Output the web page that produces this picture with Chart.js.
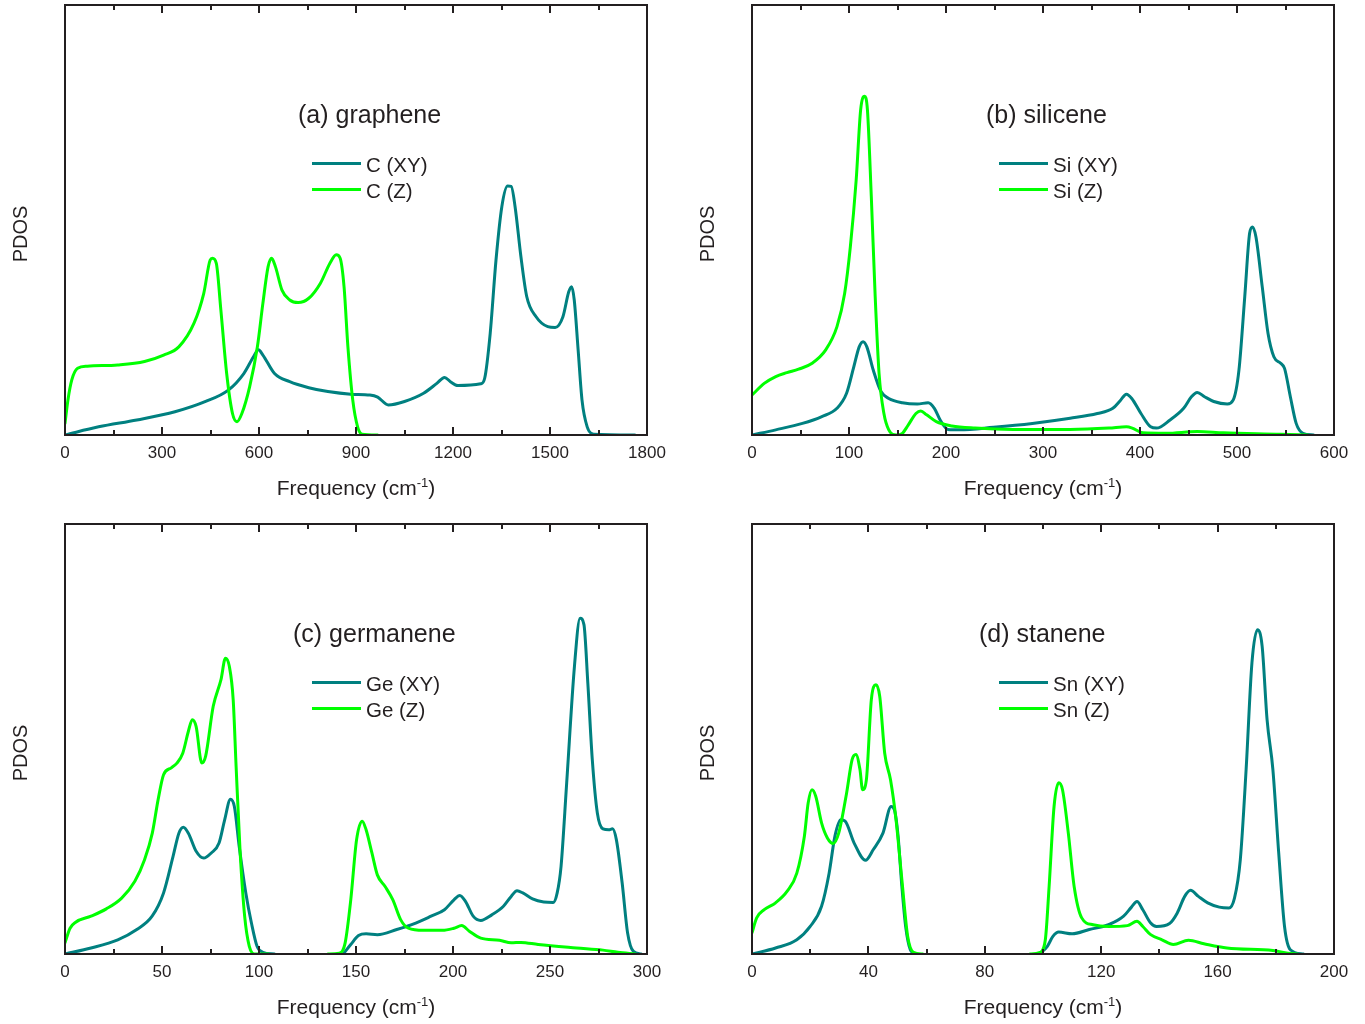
<!DOCTYPE html>
<html>
<head>
<meta charset="utf-8">
<script src="https://cdn.jsdelivr.net/npm/chart.js@4.4.1/dist/chart.umd.min.js"></script>
<style>
html,body{margin:0;padding:0;background:#fff;overflow:hidden;width:1365px;height:1024px;}
canvas{position:absolute;}
</style>
</head>
<body>
<canvas id="ca" width="678" height="505" style="left:0px;top:0px;width:678px;height:505px"></canvas>
<canvas id="cb" width="678" height="505" style="left:687px;top:0px;width:678px;height:505px"></canvas>
<canvas id="cc" width="678" height="505" style="left:0px;top:519px;width:678px;height:505px"></canvas>
<canvas id="cd" width="678" height="505" style="left:687px;top:519px;width:678px;height:505px"></canvas>
<script>
// ---------- DATA (frequency in cm^-1, PDOS in arbitrary units) ----------
const panelTitles = ['(a) graphene', '(b) silicene', '(c) germanene', '(d) stanene'];
const labelsXY = ['C (XY)', 'Si (XY)', 'Ge (XY)', 'Sn (XY)'];
const labelsZ  = ['C (Z)', 'Si (Z)', 'Ge (Z)', 'Sn (Z)'];
const xMaxima  = [1800, 600, 300, 200];
const tickSteps = [300, 100, 50, 40];

// (a) graphene
const aXY_f = [0,104,222,340,435,506,553,583,598,612,648,695,754,813,884,943,967,1000,1050,1109,1150,1174,1192,1215,1286,1298,1315,1333,1351,1369,1380,1392,1410,1428,1457,1493,1516,1540,1558,1567,1575,1587,1599,1615,1635,1762];
const aXY_p = [0,0.019,0.035,0.054,0.078,0.105,0.143,0.182,0.198,0.186,0.143,0.124,0.110,0.101,0.095,0.093,0.088,0.070,0.078,0.097,0.120,0.134,0.124,0.115,0.119,0.132,0.236,0.407,0.531,0.579,0.578,0.531,0.415,0.322,0.275,0.252,0.250,0.275,0.333,0.345,0.314,0.198,0.081,0.019,0.002,0];
const aZ_f = [0,9,21,39,69,163,246,305,352,399,429,449,456,468,482,500,518,532,547,571,595,612,628,639,651,671,695,721,754,790,819,839,851,863,875,890,905,919,967];
const aZ_p = [0.027,0.081,0.128,0.155,0.160,0.163,0.171,0.186,0.205,0.260,0.329,0.407,0.411,0.399,0.291,0.143,0.050,0.031,0.050,0.112,0.205,0.306,0.391,0.411,0.391,0.337,0.314,0.308,0.318,0.353,0.399,0.419,0.411,0.345,0.205,0.081,0.019,0.002,0];

// (b) silicene
const bXY_f = [0,24.5,52,72,87.6,97.5,105,110.5,114.5,118.4,125,133,141,155,170.5,181.6,188,194,202,214,249,289,328,356,372,380,386,391.5,401,411,417,431,445,453,459,466.5,476,490,496,502,508,513,516,519.5,526,532,538,545,549,555,561,568,579];
const bXY_p = [0,0.012,0.027,0.043,0.062,0.097,0.159,0.205,0.217,0.205,0.151,0.101,0.085,0.075,0.072,0.075,0.062,0.035,0.013,0.012,0.018,0.027,0.039,0.050,0.062,0.081,0.095,0.085,0.050,0.019,0.016,0.035,0.062,0.089,0.099,0.089,0.078,0.072,0.081,0.151,0.322,0.469,0.484,0.461,0.345,0.236,0.182,0.167,0.155,0.089,0.027,0.004,0];
const bZ_f = [0,12.6,24.5,36,48,62,76,87.6,95.5,101.4,107.4,112,116,119,123,127,131,136,141,149,155,161,169,174,180,190,206,230,269,328,368,386,392,403,427,459,486,545,573];
const bZ_p = [0.093,0.120,0.136,0.145,0.153,0.167,0.198,0.252,0.329,0.438,0.593,0.756,0.788,0.756,0.554,0.322,0.143,0.050,0.012,0,0.004,0.023,0.050,0.056,0.047,0.031,0.021,0.016,0.013,0.013,0.016,0.019,0.016,0.005,0.004,0.008,0.005,0.002,0];

// (c) germanene
const cXY_f = [0,13.4,27.2,37,44.9,50.8,55.7,58.7,61,63.6,67.6,71.5,75.4,79.4,82.3,85.3,87.3,89.8,93.2,96.1,99,102,108,120,143.4,147.3,151.3,155.2,161,171,180.8,188.7,195.6,200.5,203.5,206.5,210.4,214.3,220,226,230,233,236,241,246.8,251.7,253.7,255.7,258.6,262.6,265.5,267.5,269.5,271.8,274.4,277.3,280.3,282.2,284.2,287.2,290,293,297];
const cXY_p = [0,0.014,0.033,0.057,0.088,0.142,0.227,0.281,0.295,0.281,0.239,0.223,0.235,0.258,0.312,0.360,0.343,0.250,0.142,0.072,0.018,0.004,0,null,0,0.022,0.043,0.047,0.045,0.057,0.072,0.088,0.103,0.126,0.136,0.122,0.088,0.078,0.091,0.111,0.134,0.147,0.142,0.128,0.121,0.120,0.142,0.204,0.398,0.669,0.781,0.766,0.630,0.452,0.328,0.291,0.289,0.291,0.266,0.165,0.049,0.006,0];
const cZ_f = [0,2.6,5.5,13.4,21.3,29.2,36,41,45,48,50.8,54.8,57.7,60.7,63.6,65.6,67.6,70.5,72.5,76.4,80.4,82.7,84.7,86.7,88.2,90.2,92.6,95,98,105,120,135.5,141.4,144.4,147.3,150.3,153.2,155.2,158.2,161,165,169,173,177,184.8,194.6,200.5,204.5,208.4,214.3,224,230,235,243.9,263.6,277.3,285,294];
const cZ_p = [0.026,0.060,0.074,0.088,0.105,0.130,0.169,0.219,0.281,0.359,0.417,0.433,0.444,0.467,0.518,0.545,0.529,0.444,0.460,0.576,0.638,0.688,0.669,0.591,0.436,0.243,0.088,0.018,0,0,null,0,0.002,0.026,0.126,0.266,0.309,0.289,0.235,0.184,0.157,0.126,0.080,0.060,0.055,0.055,0.060,0.066,0.053,0.037,0.032,0.026,0.027,0.022,0.014,0.009,0.004,0];

// (d) stanene
const dXY_f = [0,8.1,15.4,20,23.9,26.5,28.5,30.5,32,35.1,39,41.7,45,47.8,48.9,50.2,51.5,52.8,54.4,56.1,80,98.8,101.5,103.4,105.4,110,115.9,122.5,127.7,130.4,132.3,134.3,137,139,143.5,146.1,148.7,150.7,153.4,156.6,160.6,163.9,165.8,167.8,169.8,171.8,173.7,175.3,177,179,181,183,185,189.5];
const dXY_p = [0,0.014,0.033,0.064,0.111,0.188,0.274,0.312,0.309,0.258,0.218,0.243,0.281,0.343,0.336,0.274,0.157,0.064,0.010,0,null,0,0.018,0.041,0.051,0.047,0.057,0.068,0.088,0.109,0.122,0.103,0.072,0.064,0.071,0.095,0.134,0.148,0.134,0.119,0.109,0.107,0.130,0.219,0.429,0.677,0.754,0.716,0.545,0.429,0.235,0.064,0.010,0];
const dZ_f = [0,1.6,4.2,8.1,12.1,15.4,18,19.3,20.6,21.9,23.9,25.9,27.9,29.8,32.5,34.4,35.7,37.1,38,39.3,41,42.6,43.9,45.6,47.6,49.5,51.5,53.5,55.5,58.7,75,95.5,99,100.8,102.1,103.8,105.4,106.7,108.7,110.7,113.3,117.2,122.5,129,132.3,134.3,137,140.9,144.8,150,155.3,163.2,179,184.2,187.5];
const dZ_p = [0.049,0.084,0.103,0.119,0.146,0.188,0.274,0.351,0.382,0.367,0.305,0.270,0.257,0.281,0.374,0.452,0.464,0.429,0.382,0.405,0.591,0.626,0.599,0.467,0.405,0.312,0.173,0.041,0.004,0,null,0,0.004,0.033,0.157,0.343,0.398,0.382,0.281,0.157,0.084,0.068,0.064,0.066,0.076,0.064,0.045,0.033,0.022,0.032,0.024,0.014,0.008,0.002,0];

const seriesXY = [[aXY_f,aXY_p],[bXY_f,bXY_p],[cXY_f,cXY_p],[dXY_f,dXY_p]];
const seriesZ  = [[aZ_f,aZ_p],[bZ_f,bZ_p],[cZ_f,cZ_p],[dZ_f,dZ_p]];

// ---------- STYLE ----------
const TEAL = '#008080', GREEN = '#00ff00', INK = '#231f20';
const FONT = '"Liberation Sans", Arial, Helvetica, sans-serif';
const canvasIds = ['ca','cb','cc','cd'];
const titleOffsets = [233, 234, 228, 227];

function pts(f, p) { return f.map((v, i) => ({ x: v, y: p[i] })); }

const decor = {
  id: 'decor',
  afterDraw(chart, args, o) {
    const ctx = chart.ctx, a = chart.chartArea, x = chart.scales.x;
    ctx.save();
    // inward ticks, top and bottom
    ctx.strokeStyle = INK; ctx.lineWidth = 2; ctx.lineCap = 'butt';
    const half = o.step / 2;
    const marks = [];
    x.ticks.forEach(t => {
      marks.push([t.value, 8]);
      if (t.value + half < x.max) marks.push([t.value + half, 5]);
    });
    ctx.beginPath();
    marks.forEach(([v, len]) => {
      const px = Math.round(x.getPixelForValue(v));
      ctx.moveTo(px, a.top); ctx.lineTo(px, a.top + len);
      ctx.moveTo(px, a.bottom); ctx.lineTo(px, a.bottom - len);
    });
    ctx.stroke();
    ctx.strokeRect(a.left, a.top, a.right - a.left, a.bottom - a.top);

    // panel title
    ctx.fillStyle = INK; ctx.textBaseline = 'alphabetic'; ctx.textAlign = 'left';
    ctx.font = '25px ' + FONT;
    ctx.fillText(o.title, a.left + o.titleX, a.top + 118);

    // legend
    ctx.font = '20.5px ' + FONT;
    chart.data.datasets.slice().sort((p, q) => p.legendIndex - q.legendIndex).forEach((ds, i) => {
      const y = a.top + 158.5 + i * 26;
      ctx.strokeStyle = ds.borderColor; ctx.lineWidth = 3;
      ctx.beginPath(); ctx.moveTo(a.left + 247, y); ctx.lineTo(a.left + 296, y); ctx.stroke();
      ctx.fillText(ds.label, a.left + 301, y + 8);
    });

    // x axis title with superscript
    const main = 'Frequency (cm', sup = '-1', close = ')';
    ctx.font = '21px ' + FONT; const w1 = ctx.measureText(main).width; const w3 = ctx.measureText(close).width;
    ctx.font = '13px ' + FONT; const w2 = ctx.measureText(sup).width;
    const cx = (a.left + a.right) / 2, base = a.bottom + 60;
    let sx = cx - (w1 + w2 + w3) / 2;
    ctx.font = '21px ' + FONT; ctx.fillText(main, sx, base);
    ctx.font = '13px ' + FONT; ctx.fillText(sup, sx + w1, base - 8);
    ctx.font = '21px ' + FONT; ctx.fillText(close, sx + w1 + w2, base);

    // y axis title
    ctx.save();
    ctx.translate(27, a.top + 229);
    ctx.rotate(-Math.PI / 2);
    ctx.textAlign = 'center';
    ctx.font = '20px ' + FONT;
    ctx.fillText('PDOS', 0, 0);
    ctx.restore();

    ctx.restore();
  }
};

canvasIds.forEach((id, k) => {
  new Chart(document.getElementById(id), {
    type: 'line',
    data: {
      datasets: [
        { label: labelsZ[k], legendIndex: 1, data: pts(seriesZ[k][0], seriesZ[k][1]), borderColor: GREEN, order: 1 },
        { label: labelsXY[k], legendIndex: 0, data: pts(seriesXY[k][0], seriesXY[k][1]), borderColor: TEAL, order: 2 }
      ]
    },
    options: {
      responsive: false,
      animation: false,
      devicePixelRatio: 1,
      layout: { padding: { left: 65, top: 5, right: 31, bottom: 0 } },
      elements: {
        point: { radius: 0, hoverRadius: 0 },
        line: { borderWidth: 3, cubicInterpolationMode: 'monotone', fill: false, borderJoinStyle: 'round', borderCapStyle: 'round' }
      },
      spanGaps: false,
      scales: {
        x: {
          type: 'linear', min: 0, max: xMaxima[k],
          grid: { display: false, drawTicks: false },
          border: { display: false },
          ticks: {
            stepSize: tickSteps[k], padding: 8, color: INK,
            font: { family: FONT, size: 17 }, maxRotation: 0, autoSkip: false,
            callback: (v) => String(v)
          },
          afterFit(s) { s.height = 70; }
        },
        y: { display: false, min: 0, max: 1 }
      },
      plugins: {
        legend: { display: false },
        tooltip: { enabled: false },
        decor: { title: panelTitles[k], titleX: titleOffsets[k], step: tickSteps[k] }
      }
    },
    plugins: [decor]
  });
});
</script>
</body>
</html>
